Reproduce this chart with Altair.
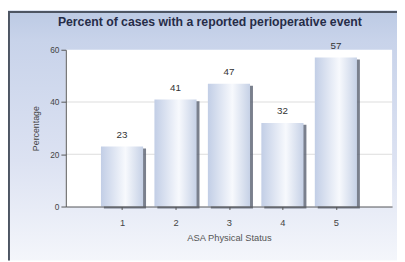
import altair as alt
import pandas as pd

# ---- data ----
categories = [1, 2, 3, 4, 5]
values = [23, 41, 47, 32, 57]
y_ticks = [0, 20, 40, 60]
grid_levels = [20, 40]
title_text = "Percent of cases with a reported perioperative event"
x_title = "ASA Physical Status"
y_title = "Percentage"

df = pd.DataFrame({"status": categories, "pct": values})
grid_df = pd.DataFrame({"level": grid_levels})
one = pd.DataFrame({"a": [0]})
title_df = pd.DataFrame({"t": [title_text]})

FONT = "Liberation Sans"
W, H = 333, 160

xscale = alt.Scale(domain=[0.04, 5.96], nice=False, zero=False)
yscale = alt.Scale(domain=[0, 60], nice=False)

bg_grad = alt.Gradient(
    gradient="linear", x1=0, x2=0, y1=0, y2=1,
    stops=[
        alt.GradientStop(offset=0, color="#bccae4"),
        alt.GradientStop(offset=0.12, color="#c8d3ea"),
        alt.GradientStop(offset=0.6, color="#dce2f2"),
        alt.GradientStop(offset=1, color="#f4f6fb"),
    ],
)
bar_grad = alt.Gradient(
    gradient="linear", x1=0, x2=1, y1=0, y2=0,
    stops=[
        alt.GradientStop(offset=0, color="#c2cee6"),
        alt.GradientStop(offset=0.58, color="#f7f9fd"),
        alt.GradientStop(offset=1, color="#c6d1e6"),
    ],
)

panel = alt.Chart(one).mark_rect(fill=bg_grad).encode(
    x=alt.value(-59), x2=alt.value(340), y=alt.value(-40), y2=alt.value(215)
)
border_top = alt.Chart(one).mark_rule(color="#4d5563", strokeWidth=2).encode(
    x=alt.value(-59), x2=alt.value(340), y=alt.value(-38.5)
)
border_left = alt.Chart(one).mark_rule(color="#4d5563", strokeWidth=2).encode(
    x=alt.value(-58), y=alt.value(-39), y2=alt.value(215)
)
plot_bg = alt.Chart(one).mark_rect(fill="white").encode(
    x=alt.value(0), x2=alt.value(W), y=alt.value(0), y2=alt.value(H)
)
grid = alt.Chart(grid_df).mark_rule(color="#dcdcdc", strokeWidth=1).encode(
    y=alt.Y("level:Q", scale=yscale)
)
title = alt.Chart(title_df).mark_text(
    font=FONT, fontSize=12.5, fontWeight="bold", color="#262c48",
    align="center", baseline="middle",
).encode(x=alt.value(147), y=alt.value(-28), text="t:N")

xenc = alt.X(
    "status:Q", scale=xscale,
    axis=alt.Axis(
        values=categories, format="d", title=x_title, grid=False,
        domainColor="#555555", tickColor="#555555", tickSize=3,
        labelFont=FONT, labelFontSize=9.5, labelColor="#444444", labelPadding=8,
        titleFont=FONT, titleFontSize=9.5, titleFontWeight="normal",
        titleColor="#555555", titlePadding=6, zindex=1,
    ),
)
yenc = alt.Y(
    "pct:Q", scale=yscale,
    axis=alt.Axis(
        values=y_ticks, title=y_title, grid=False,
        domainColor="#555555", tickColor="#555555", tickSize=5,
        labelFont=FONT, labelFontSize=8.5, labelColor="#444444", labelPadding=2,
        titleFont=FONT, titleFontSize=9, titleFontWeight="normal",
        titleColor="#444444", titlePadding=9, zindex=1,
    ),
)

shadow = alt.Chart(df).mark_bar(
    size=43, color="#596070", xOffset=3, yOffset=2, opacity=0.8
).encode(x=alt.X("status:Q", scale=xscale), y=alt.Y("pct:Q", scale=yscale))

bars = alt.Chart(df).mark_bar(size=43, fill=bar_grad).encode(x=xenc, y=yenc)

labels = alt.Chart(df).mark_text(
    dy=-7, baseline="bottom", font=FONT, fontSize=10, color="#333333"
).encode(
    x=alt.X("status:Q", scale=xscale),
    y=alt.Y("pct:Q", scale=yscale),
    text="pct:Q",
)

chart = alt.layer(
    panel, border_top, border_left, plot_bg, grid, shadow, bars, labels, title
).properties(
    width=W,
    height=H,
    padding={"left": 59, "top": 40, "right": 5, "bottom": 54},
    autosize=alt.AutoSizeParams(type="none"),
    background="white",
).configure_view(stroke=None)

chart.save("out.html", embed_options={"renderer": "svg", "actions": False})
